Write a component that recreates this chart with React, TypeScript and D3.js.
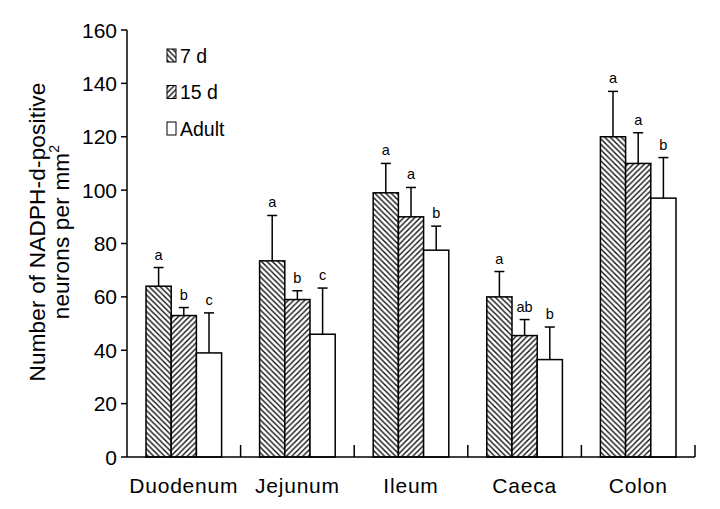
import React, { useRef, useEffect } from "react";
import { select, scaleLinear, scaleBand } from "d3";

const categories = ["Duodenum", "Jejunum", "Ileum", "Caeca", "Colon"];
const seriesNames = ["7 d", "15 d", "Adult"];
const means7d = [64, 73.5, 99, 60, 120];
const means15d = [53, 59, 90, 45.5, 110];
const meansAdult = [39, 46, 77.5, 36.5, 97];
const upper7d = [71, 90.5, 110, 69.5, 137];
const upper15d = [56, 62.3, 101, 51.5, 121.5];
const upperAdult = [54, 63.3, 86.5, 48.7, 112.2];
const letters7d = ["a", "a", "a", "a", "a"];
const letters15d = ["b", "b", "a", "ab", "a"];
const lettersAdult = ["c", "c", "b", "b", "b"];
const yTicks = [0, 20, 40, 60, 80, 100, 120, 140, 160];

const FONT = "Liberation Sans, Arial, sans-serif";

function App() {
    const svgRef = useRef();

    useEffect(() => {
        const width = 720;
        const height = 509;
        const plot = { left: 127, right: 695, top: 30, bottom: 457 };

        const series = [
            { name: seriesNames[0], means: means7d, upper: upper7d, letters: letters7d, fill: "url(#hatchBack)" },
            { name: seriesNames[1], means: means15d, upper: upper15d, letters: letters15d, fill: "url(#hatchFwd)" },
            { name: seriesNames[2], means: meansAdult, upper: upperAdult, letters: lettersAdult, fill: "#fff" }
        ];

        const svg = select(svgRef.current);
        svg.selectAll("*").remove();
        svg.attr("width", width).attr("height", height);

        const defs = svg.append("defs");
        const back = defs.append("pattern")
            .attr("id", "hatchBack")
            .attr("patternUnits", "userSpaceOnUse")
            .attr("width", 5.5).attr("height", 5.5);
        back.append("rect").attr("width", 5.5).attr("height", 5.5).attr("fill", "#fff");
        back.append("path")
            .attr("d", "M-1,-1 L6.5,6.5 M-1,4.5 L1,6.5 M4.5,-1 L6.5,1")
            .attr("stroke", "#111").attr("stroke-width", 1.4);
        const fwd = defs.append("pattern")
            .attr("id", "hatchFwd")
            .attr("patternUnits", "userSpaceOnUse")
            .attr("width", 5.5).attr("height", 5.5);
        fwd.append("rect").attr("width", 5.5).attr("height", 5.5).attr("fill", "#fff");
        fwd.append("path")
            .attr("d", "M-1,6.5 L6.5,-1 M-1,1 L1,-1 M4.5,6.5 L6.5,4.5")
            .attr("stroke", "#111").attr("stroke-width", 1.4);

        const xScale = scaleBand()
            .range([plot.left, plot.right])
            .domain(categories);

        const xInner = scaleBand()
            .range([19, xScale.bandwidth() - 19])
            .domain(seriesNames);

        const yScale = scaleLinear()
            .range([plot.bottom, plot.top])
            .domain([0, 160]);

        // bars
        series.forEach((s) => {
            const g = svg.append("g");
            g.selectAll("rect")
                .data(categories)
                .join("rect")
                .attr("x", (c) => xScale(c) + xInner(s.name))
                .attr("y", (c, i) => yScale(s.means[i]))
                .attr("width", xInner.bandwidth())
                .attr("height", (c, i) => yScale(0) - yScale(s.means[i]))
                .attr("fill", s.fill)
                .attr("stroke", "#000")
                .attr("stroke-width", 1.5);

            const cx = (c) => xScale(c) + xInner(s.name) + xInner.bandwidth() / 2;
            g.selectAll(".err")
                .data(categories)
                .join("line")
                .attr("class", "err")
                .attr("x1", cx).attr("x2", cx)
                .attr("y1", (c, i) => yScale(s.means[i]))
                .attr("y2", (c, i) => yScale(s.upper[i]))
                .attr("stroke", "#000").attr("stroke-width", 1.5);
            g.selectAll(".cap")
                .data(categories)
                .join("line")
                .attr("class", "cap")
                .attr("x1", (c) => cx(c) - 5).attr("x2", (c) => cx(c) + 5)
                .attr("y1", (c, i) => yScale(s.upper[i]))
                .attr("y2", (c, i) => yScale(s.upper[i]))
                .attr("stroke", "#000").attr("stroke-width", 1.5);
            g.selectAll(".letter")
                .data(categories)
                .join("text")
                .attr("class", "letter")
                .attr("x", cx)
                .attr("y", (c, i) => yScale(s.upper[i]) - 8)
                .attr("text-anchor", "middle")
                .attr("font-family", FONT)
                .attr("font-size", 14.5)
                .text((c, i) => s.letters[i]);
        });

        // axes
        const axis = svg.append("g").attr("stroke", "#000").attr("stroke-width", 1.5);
        axis.append("line")
            .attr("x1", plot.left).attr("x2", plot.left)
            .attr("y1", yScale(160)).attr("y2", yScale(0));
        axis.append("line")
            .attr("x1", plot.left).attr("x2", plot.right)
            .attr("y1", yScale(0)).attr("y2", yScale(0));
        axis.selectAll(".ytick")
            .data(yTicks)
            .join("line")
            .attr("class", "ytick")
            .attr("x1", plot.left - 6).attr("x2", plot.left)
            .attr("y1", (d) => yScale(d)).attr("y2", (d) => yScale(d));
        axis.selectAll(".xtick")
            .data(categories)
            .join("line")
            .attr("class", "xtick")
            .attr("x1", (c) => xScale(c) + xScale.bandwidth())
            .attr("x2", (c) => xScale(c) + xScale.bandwidth())
            .attr("y1", yScale(0) - 12).attr("y2", yScale(0));

        svg.selectAll(".ylabel")
            .data(yTicks)
            .join("text")
            .attr("class", "ylabel")
            .attr("x", plot.left - 10)
            .attr("y", (d) => yScale(d) + 7.5)
            .attr("text-anchor", "end")
            .attr("font-family", FONT)
            .attr("font-size", 21)
            .text((d) => d);

        svg.selectAll(".xlabel")
            .data(categories)
            .join("text")
            .attr("class", "xlabel")
            .attr("x", (c) => xScale(c) + xScale.bandwidth() / 2)
            .attr("y", 493)
            .attr("text-anchor", "middle")
            .attr("font-family", FONT)
            .attr("font-size", 21)
            .attr("letter-spacing", 0.8)
            .text((c) => c);

        const title = svg.append("g")
            .attr("transform", "translate(0,232) rotate(-90)")
            .attr("font-family", FONT)
            .attr("font-size", 22.5)
            .attr("letter-spacing", 0.2)
            .attr("text-anchor", "middle");
        title.append("text").attr("x", 0).attr("y", 45).text("Number of NADPH-d-positive");
        const t2 = title.append("text").attr("x", 0).attr("y", 69);
        t2.append("tspan").text("neurons per mm");
        t2.append("tspan").attr("font-size", 14).attr("dy", -10).text("2");

        // legend
        const legend = svg.append("g").attr("transform", "translate(167,49)");
        series.forEach((s, i) => {
            legend.append("rect")
                .attr("x", 0).attr("y", i * 36.5)
                .attr("width", 9).attr("height", 13)
                .attr("fill", s.fill)
                .attr("stroke", "#000").attr("stroke-width", 1);
            legend.append("text")
                .attr("x", 13).attr("y", i * 36.5 + 13.5)
                .attr("font-family", FONT)
                .attr("font-size", 19.5)
                .text(s.name);
        });
    }, []);

    return (
        <div style={{ position: "absolute", left: 0, top: 0 }}>
            <svg ref={svgRef}></svg>
        </div>
    );
}

export default App;
